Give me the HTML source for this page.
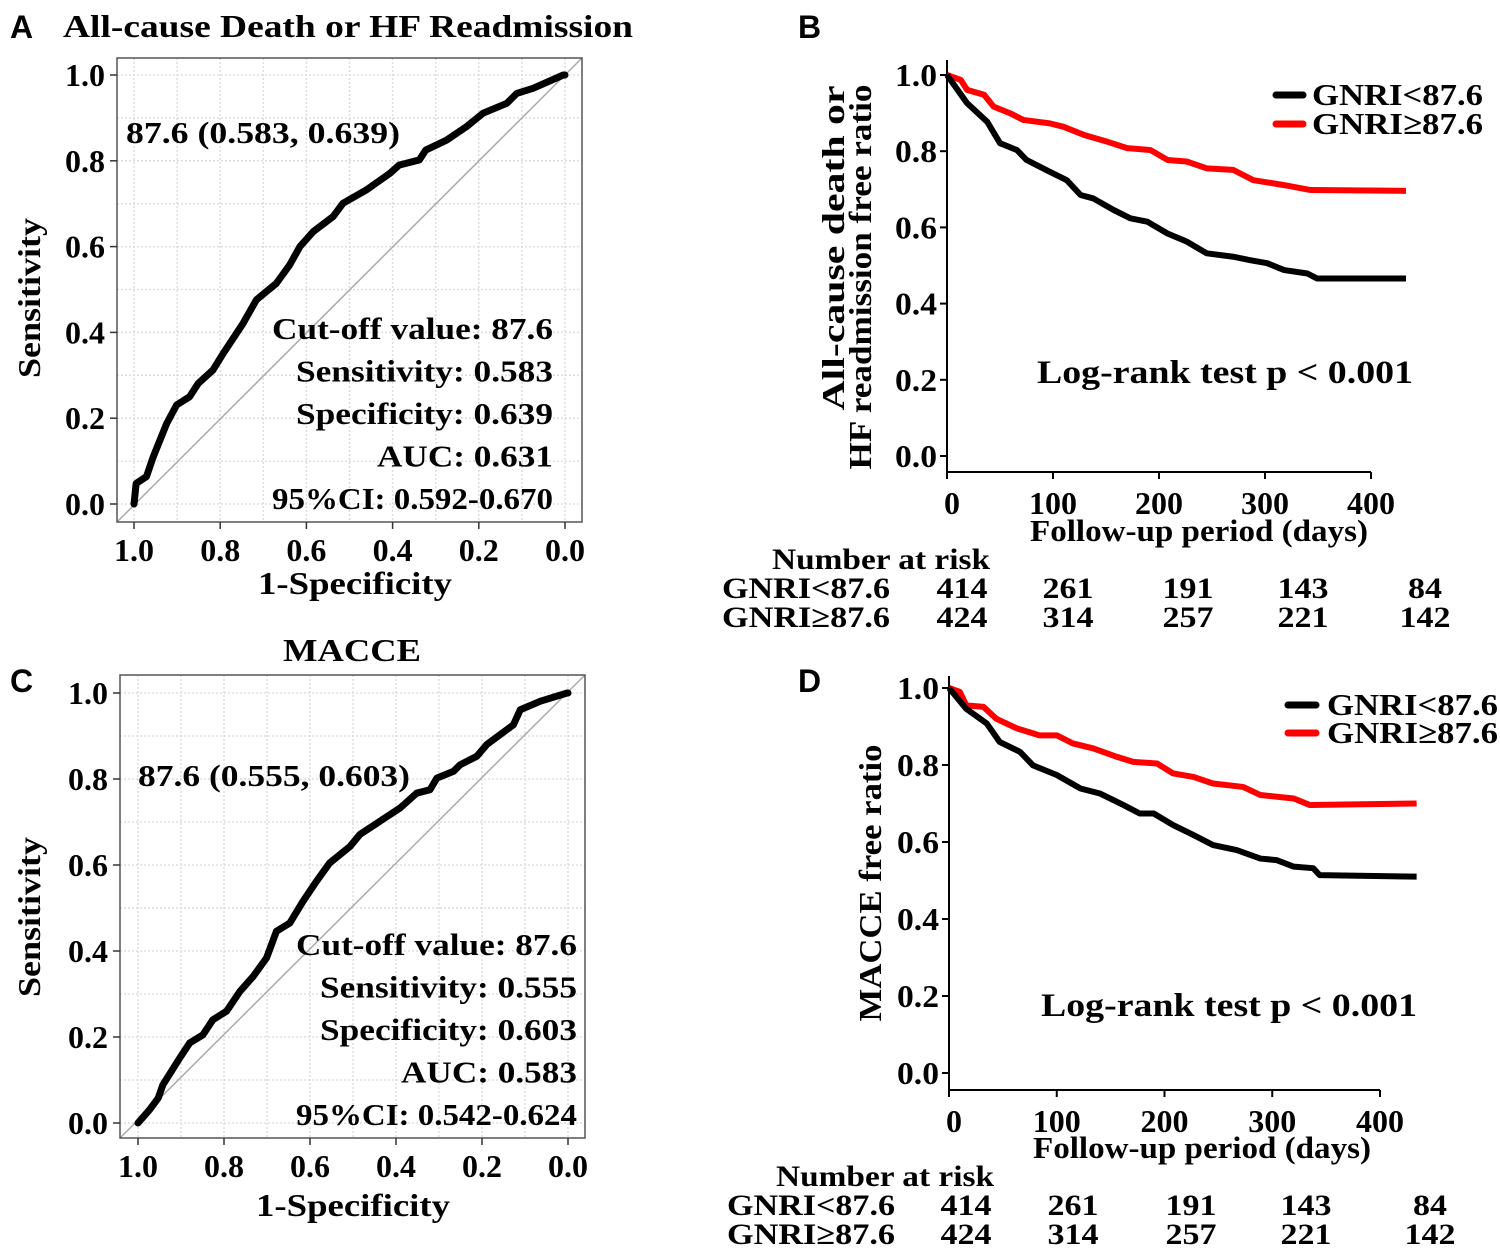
<!DOCTYPE html>
<html><head><meta charset="utf-8">
<style>
html,body{margin:0;padding:0;background:#fff;}
svg{display:block;font-family:"Liberation Serif",serif;font-weight:bold;}
</style></head>
<body>
<svg id="fig" width="1500" height="1258" viewBox="0 0 1500 1258" xmlns="http://www.w3.org/2000/svg">
<g id="root"></g>
</svg>
<script>
// ROC A data (specificity, sensitivity)
const rocASpec = [1,0.995,0.971,0.955,0.924,0.901,0.871,0.851,0.817,0.793,0.747,0.716,0.670,0.639,0.615,0.584,0.538,0.515,0.461,0.406,0.385,0.338,0.323,0.275,0.228,0.190,0.135,0.112,0.074,0.004,0];
const rocASens = [0,0.048,0.064,0.111,0.188,0.231,0.250,0.281,0.312,0.351,0.421,0.476,0.514,0.557,0.600,0.635,0.670,0.701,0.732,0.771,0.790,0.802,0.825,0.848,0.880,0.911,0.934,0.957,0.969,1.0,1.0];
// ROC C data
const rocCSpec = [1,0.973,0.953,0.942,0.903,0.880,0.849,0.826,0.794,0.763,0.732,0.701,0.678,0.647,0.616,0.585,0.554,0.507,0.484,0.437,0.390,0.352,0.321,0.305,0.266,0.251,0.212,0.189,0.127,0.111,0.064,0.002,0];
const rocCSens = [0,0.031,0.058,0.089,0.151,0.186,0.205,0.240,0.260,0.306,0.341,0.384,0.446,0.465,0.516,0.562,0.605,0.643,0.671,0.702,0.733,0.767,0.775,0.802,0.818,0.833,0.853,0.880,0.926,0.961,0.981,1.0,1.0];
// KM B
const kmBLowDays = [0,19,38,50,66,75,97,113,126,138,157,173,189,208,226,245,270,286,302,318,340,349,433];
const kmBLowSurv = [1.0,0.926,0.877,0.821,0.803,0.777,0.746,0.724,0.685,0.676,0.646,0.624,0.615,0.584,0.563,0.532,0.523,0.514,0.506,0.488,0.479,0.466,0.466];
const kmBHighDays = [0,13,19,35,44,60,72,97,110,129,151,170,192,208,226,245,270,289,318,343,433];
const kmBHighSurv = [1.0,0.987,0.961,0.948,0.917,0.899,0.882,0.873,0.864,0.843,0.825,0.808,0.803,0.777,0.773,0.755,0.751,0.724,0.711,0.698,0.696];
// KM D
const kmDLowDays = [0,16,35,47,66,78,100,122,140,162,177,190,208,227,245,267,289,304,320,338,344,434];
const kmDLowSurv = [1,0.946,0.908,0.860,0.834,0.799,0.774,0.739,0.726,0.696,0.674,0.674,0.644,0.618,0.592,0.579,0.557,0.553,0.536,0.532,0.514,0.510];
const kmDHighDays = [0,10,16,32,44,63,84,100,115,134,156,171,193,208,227,245,273,289,320,335,434];
const kmDHighSurv = [1,0.990,0.955,0.951,0.920,0.895,0.877,0.877,0.856,0.843,0.821,0.808,0.804,0.778,0.769,0.752,0.743,0.722,0.713,0.696,0.700];
// axis ticks
const rocTicks = [0,0.2,0.4,0.6,0.8,1.0];
const rocTickLabels = ["0.0","0.2","0.4","0.6","0.8","1.0"];
const kmXTicks = [0,100,200,300,400];
const kmYTicks = [0,0.2,0.4,0.6,0.8,1.0];
const riskLow = [414,261,191,143,84];
const riskHigh = [424,314,257,221,142];

const NS="http://www.w3.org/2000/svg";
const root=document.getElementById('root');
function mk(tag,attrs,parent,text){const e=document.createElementNS(NS,tag);for(const k in attrs)e.setAttribute(k,attrs[k]);if(text!==undefined)e.textContent=text;(parent||root).appendChild(e);return e;}
function txt(x,y,s,size,anchor,name,parent,extra,len){
  const a=Object.assign({x:x,y:y,'font-size':size,'text-anchor':anchor||'start'},extra||{});
  if(len){a.textLength=len;a.lengthAdjust='spacingAndGlyphs';}
  const t=mk('text',a,parent,s);
  
  
  return t;}

function roc(cfg){
  const g=mk('g',{});
  
  
  const xs=v=>cfg.xL+(1-v)*(cfg.xR-cfg.xL);
  const ys=v=>cfg.yB-v*(cfg.yB-cfg.yT);
  for(let i=0;i<=10;i++){const v=i/10;
    const gl=mk('line',{x1:xs(v),x2:xs(v),y1:cfg.bt,y2:cfg.bb,stroke:'#ddd','stroke-width':1.5,'stroke-dasharray':'2 2'},g);
    
    
    const gh=mk('line',{x1:cfg.bl,x2:cfg.br,y1:ys(v),y2:ys(v),stroke:'#ddd','stroke-width':1.5,'stroke-dasharray':'2 2'},g);
    
    }
  const dg=mk('line',{x1:cfg.bl,y1:cfg.bb,x2:cfg.br,y2:cfg.bt,stroke:'#aaa','stroke-width':1.5},g);
  
  
  const bx=mk('rect',{x:cfg.bl,y:cfg.bt,width:cfg.br-cfg.bl,height:cfg.bb-cfg.bt,fill:'none',stroke:'#555','stroke-width':1.5},g);
  
  
  rocTicks.forEach((v,i)=>{
    const t1=mk('line',{x1:cfg.bl-7,x2:cfg.bl,y1:ys(v),y2:ys(v),stroke:'#333','stroke-width':1.5},g);
    
    
    txt(cfg.bl-12,ys(v)+11,rocTickLabels[i],32,'end','y-tick-label',g,null,40);
    const t2=mk('line',{x1:xs(v),x2:xs(v),y1:cfg.bb,y2:cfg.bb+7,stroke:'#333','stroke-width':1.5},g);
    
    
    txt(xs(v),cfg.bb+39,rocTickLabels[i],32,'middle','x-tick-label',g,null,40);
  });
  const pts=cfg.spec.map((s,i)=>xs(s)+','+ys(cfg.sens[i])).join(' ');
  const pl=mk('polyline',{points:pts,fill:'none',stroke:'#000','stroke-width':7,'stroke-linejoin':'round','stroke-linecap':'round'},g);
  
  
  return g;
}
function km(cfg){
  const g=mk('g',{});
  
  
  const xs=d=>cfg.x0+d*(cfg.x4-cfg.x0)/400;
  const ys=v=>cfg.y0-v*(cfg.y0-cfg.y1);
  const ya=mk('line',{x1:cfg.x0,x2:cfg.x0,y1:cfg.top,y2:cfg.ax,stroke:'#000','stroke-width':2},g);
  
  
  const xa=mk('line',{x1:cfg.x0,x2:cfg.x4,y1:cfg.ax,y2:cfg.ax,stroke:'#000','stroke-width':2},g);
  
  
  kmYTicks.forEach(v=>{
    const t=mk('line',{x1:cfg.x0-7,x2:cfg.x0,y1:ys(v),y2:ys(v),stroke:'#000','stroke-width':2},g);
    
    
    txt(cfg.x0-10,ys(v)+11,v.toFixed(1),32,'end','y-tick-label',g,null,42);
  });
  kmXTicks.forEach(v=>{
    const t=mk('line',{x1:xs(v),x2:xs(v),y1:cfg.ax,y2:cfg.ax+7,stroke:'#000','stroke-width':2},g);
    
    
    const s=String(v);
    txt(xs(v)+(v===0?5:0),cfg.ax+42,s,32,'middle','x-tick-label',g,null,s.length*16);
  });
  function line(days,surv,color,name){
    const pts=days.map((d,i)=>xs(d)+','+ys(surv[i])).join(' ');
    const p=mk('polyline',{points:pts,fill:'none',stroke:color,'stroke-width':6,'stroke-linejoin':'round'},g);
    
    
  }
  line(cfg.hd,cfg.hs,'#f00','curve-gnri-high');
  line(cfg.ld,cfg.ls,'#000','curve-gnri-low');
  return g;
}

// Panel A
txt(10,38,'A',32,'start','panel-a-label',root,{'font-family':'Liberation Sans, sans-serif'});
txt(348,37,'All-cause Death or HF Readmission',32,'middle','panel-a-title',root,null,570);
roc({name:'roc-panel-a',bl:117,br:582,bt:58,bb:522,xL:134,xR:565,yT:75,yB:504,spec:rocASpec,sens:rocASens});
txt(40,298,'Sensitivity',32,'middle','y-axis-title-a',root,{transform:'rotate(-90 40 298)'},160);
txt(355,594,'1-Specificity',32,'middle','x-axis-title-a',root,null,194);
txt(126,143,'87.6 (0.583, 0.639)',31,'start','cutoff-point-label-a',root,null,274);
const statLen=[281,257,257,176,281];
['Cut-off value: 87.6','Sensitivity: 0.583','Specificity: 0.639','AUC: 0.631','95%CI:  0.592-0.670'].forEach((s,i)=>txt(553,339+i*42.5,s,31,'end','stats-annotation-a',root,null,statLen[i]));

// Panel C
txt(10,692,'C',32,'start','panel-c-label',root,{'font-family':'Liberation Sans, sans-serif'});
txt(352,661,'MACCE',32,'middle','panel-c-title',root,null,138);
roc({name:'roc-panel-c',bl:120,br:585,bt:675,bb:1138,xL:138,xR:568,yT:693,yB:1123,spec:rocCSpec,sens:rocCSens});
txt(40,917,'Sensitivity',32,'middle','y-axis-title-c',root,{transform:'rotate(-90 40 917)'},160);
txt(353,1216,'1-Specificity',32,'middle','x-axis-title-c',root,null,194);
txt(138,786,'87.6 (0.555, 0.603)',31,'start','cutoff-point-label-c',root,null,272);
['Cut-off value: 87.6','Sensitivity: 0.555','Specificity: 0.603','AUC: 0.583','95%CI:  0.542-0.624'].forEach((s,i)=>txt(577,955+i*42.5,s,31,'end','stats-annotation-c',root,null,statLen[i]));

// Panel B
txt(798,38,'B',32,'start','panel-b-label',root,{'font-family':'Liberation Sans, sans-serif'});
km({name:'km-panel-b',x0:947,x4:1371,y0:456,y1:75,top:60,ax:472,ld:kmBLowDays,ls:kmBLowSurv,hd:kmBHighDays,hs:kmBHighSurv});
txt(844,248,'All-cause death or',32,'middle','y-axis-title-b-line1',root,{transform:'rotate(-90 844 248)'},325);
txt(871,277,'HF readmission  free ratio',32,'middle','y-axis-title-b-line2',root,{transform:'rotate(-90 871 277)'},385);
txt(1225,383,'Log-rank  test p < 0.001',33,'middle','logrank-annotation-b',root,null,376);
txt(1199,541,'Follow-up period (days)',31,'middle','x-axis-title-b',root,null,338);
{const l1=mk('line',{x1:1276,x2:1303,y1:95,y2:95,stroke:'#000','stroke-width':7,'stroke-linecap':'round'});
 const l2=mk('line',{x1:1276,x2:1303,y1:124,y2:124,stroke:'#f00','stroke-width':7,'stroke-linecap':'round'});}
txt(1312,105,'GNRI<87.6',31,'start','legend-entry-low-b',root,null,171);
txt(1312,134,'GNRI≥87.6',31,'start','legend-entry-high-b',root,null,171);
txt(881,569,'Number at risk',30,'middle','risk-table-title-b',root,null,218);
txt(890,598,'GNRI<87.6',30,'end','risk-row-label-low-b',root,null,168);
txt(890,627,'GNRI≥87.6',30,'end','risk-row-label-high-b',root,null,168);
const colB=[962,1068,1188,1303,1425];
riskLow.forEach((v,i)=>{const s=String(v);txt(colB[i],598,s,30,'middle','risk-count-low-b',root,null,s.length*17);});
riskHigh.forEach((v,i)=>{const s=String(v);txt(colB[i],627,s,30,'middle','risk-count-high-b',root,null,s.length*17);});

// Panel D
txt(798,692,'D',32,'start','panel-d-label',root,{'font-family':'Liberation Sans, sans-serif'});
km({name:'km-panel-d',x0:949,x4:1380,y0:1073,y1:688,top:676,ax:1090,ld:kmDLowDays,ls:kmDLowSurv,hd:kmDHighDays,hs:kmDHighSurv});
txt(881,883,'MACCE  free ratio',32,'middle','y-axis-title-d',root,{transform:'rotate(-90 881 883)'},277);
txt(1229,1016,'Log-rank  test p < 0.001',33,'middle','logrank-annotation-d',root,null,376);
txt(1202,1158,'Follow-up period (days)',31,'middle','x-axis-title-d',root,null,338);
{const l1=mk('line',{x1:1288,x2:1316,y1:705,y2:705,stroke:'#000','stroke-width':7,'stroke-linecap':'round'});
 const l2=mk('line',{x1:1288,x2:1316,y1:733,y2:733,stroke:'#f00','stroke-width':7,'stroke-linecap':'round'});}
txt(1327,715,'GNRI<87.6',31,'start','legend-entry-low-d',root,null,171);
txt(1327,743,'GNRI≥87.6',31,'start','legend-entry-high-d',root,null,171);
txt(885,1186,'Number at risk',30,'middle','risk-table-title-d',root,null,218);
txt(895,1215,'GNRI<87.6',30,'end','risk-row-label-low-d',root,null,168);
txt(895,1244,'GNRI≥87.6',30,'end','risk-row-label-high-d',root,null,168);
const colD=[966,1073,1191,1306,1430];
riskLow.forEach((v,i)=>{const s=String(v);txt(colD[i],1215,s,30,'middle','risk-count-low-d',root,null,s.length*17);});
riskHigh.forEach((v,i)=>{const s=String(v);txt(colD[i],1244,s,30,'middle','risk-count-high-d',root,null,s.length*17);});
</script>
</body></html>
